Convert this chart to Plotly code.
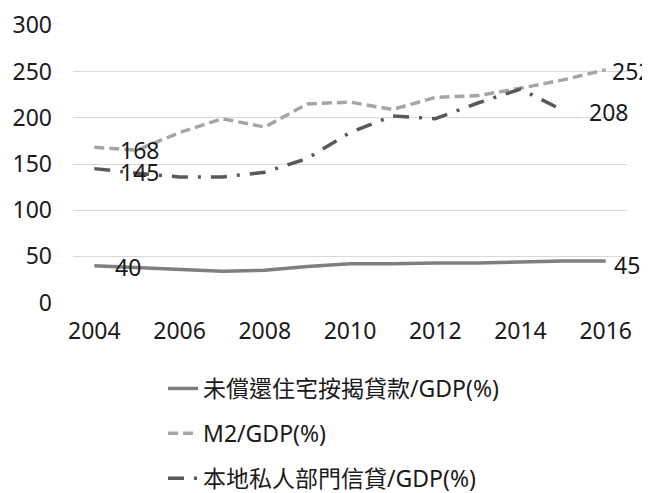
import plotly.graph_objects as go

years = [2004, 2005, 2006, 2007, 2008, 2009, 2010, 2011, 2012, 2013, 2014, 2015, 2016]
mortgage = [40, 38, 36, 34, 35, 39, 42, 42, 43, 43, 44, 45, 45]
m2 = [168, 165, 184, 199, 190, 215, 217, 209, 222, 224, 232, 241, 252]
credit_years = [2004, 2005, 2006, 2007, 2008, 2009, 2010, 2011, 2012, 2013, 2014, 2015]
credit = [145, 140, 136, 136, 141, 156, 184, 202, 199, 216, 231, 208]

names = ["未償還住宅按揭貸款/GDP(%)", "M2/GDP(%)", "本地私人部門信貸/GDP(%)"]
ytick_vals = [0, 50, 100, 150, 200, 250, 300]
xtick_vals = [2004, 2006, 2008, 2010, 2012, 2014, 2016]

FONT = "Noto Sans, Noto Sans CJK TC, sans-serif"
TXT = "#1a1a1a"

fig = go.Figure()
fig.add_trace(go.Scatter(x=years, y=mortgage, mode="lines", name=names[0], legendgroup="a",
                         line=dict(color="#7f7f7f", width=3.5)))
fig.add_trace(go.Scatter(x=years, y=m2, mode="lines", name=names[1], legendgroup="b",
                         line=dict(color="#a6a6a6", width=3.5, dash="10px,5px")))
fig.add_trace(go.Scatter(x=credit_years, y=credit, mode="lines", name=names[2], legendgroup="c",
                         line=dict(color="#595959", width=3.5, dash="16px,10px,3px,10px")))

labels = [
    (years[0], mortgage[0], 19, -1),
    (years[-1], mortgage[-1], 6, -4),
    (years[0], m2[0], 24, -3),
    (years[-1], m2[-1], 4, -1),
    (credit_years[0], credit[0], 24, -3),
    (credit_years[-1], credit[-1], 24, -2),
]
for x, y, xs, ys in labels:
    fig.add_annotation(x=x, y=y, text=str(y), showarrow=False, xanchor="left", yanchor="middle",
                       xshift=xs, yshift=ys, font=dict(size=23, color=TXT, family=FONT))

fig.update_layout(
    width=650, height=493,
    margin=dict(l=65, r=31, t=17, b=198, autoexpand=False),
    plot_bgcolor="white", paper_bgcolor="white",
    font=dict(family=FONT, size=23, color=TXT),
    showlegend=True,
    legend=dict(orientation="v", xref="container", x=0.2385, xanchor="left",
                yref="container", y=0.2718, yanchor="top",
                tracegroupgap=12, font=dict(size=23, color=TXT, family=FONT),
                bgcolor="rgba(0,0,0,0)"),
    xaxis=dict(range=[2003.5, 2016.5], tickvals=xtick_vals, showgrid=False, zeroline=False,
               showline=False, ticks="", ticklabelstandoff=12, automargin=False,
               tickfont=dict(size=23, color=TXT, family=FONT)),
    yaxis=dict(range=[-0.4, 300.4], tickvals=ytick_vals, showgrid=True, gridcolor="#d9d9d9",
               gridwidth=1, zeroline=False, showline=False, ticks="", ticklabelstandoff=20,
               automargin=False,
               tickfont=dict(size=23, color=TXT, family=FONT)),
)
fig.write_html("out.html")
